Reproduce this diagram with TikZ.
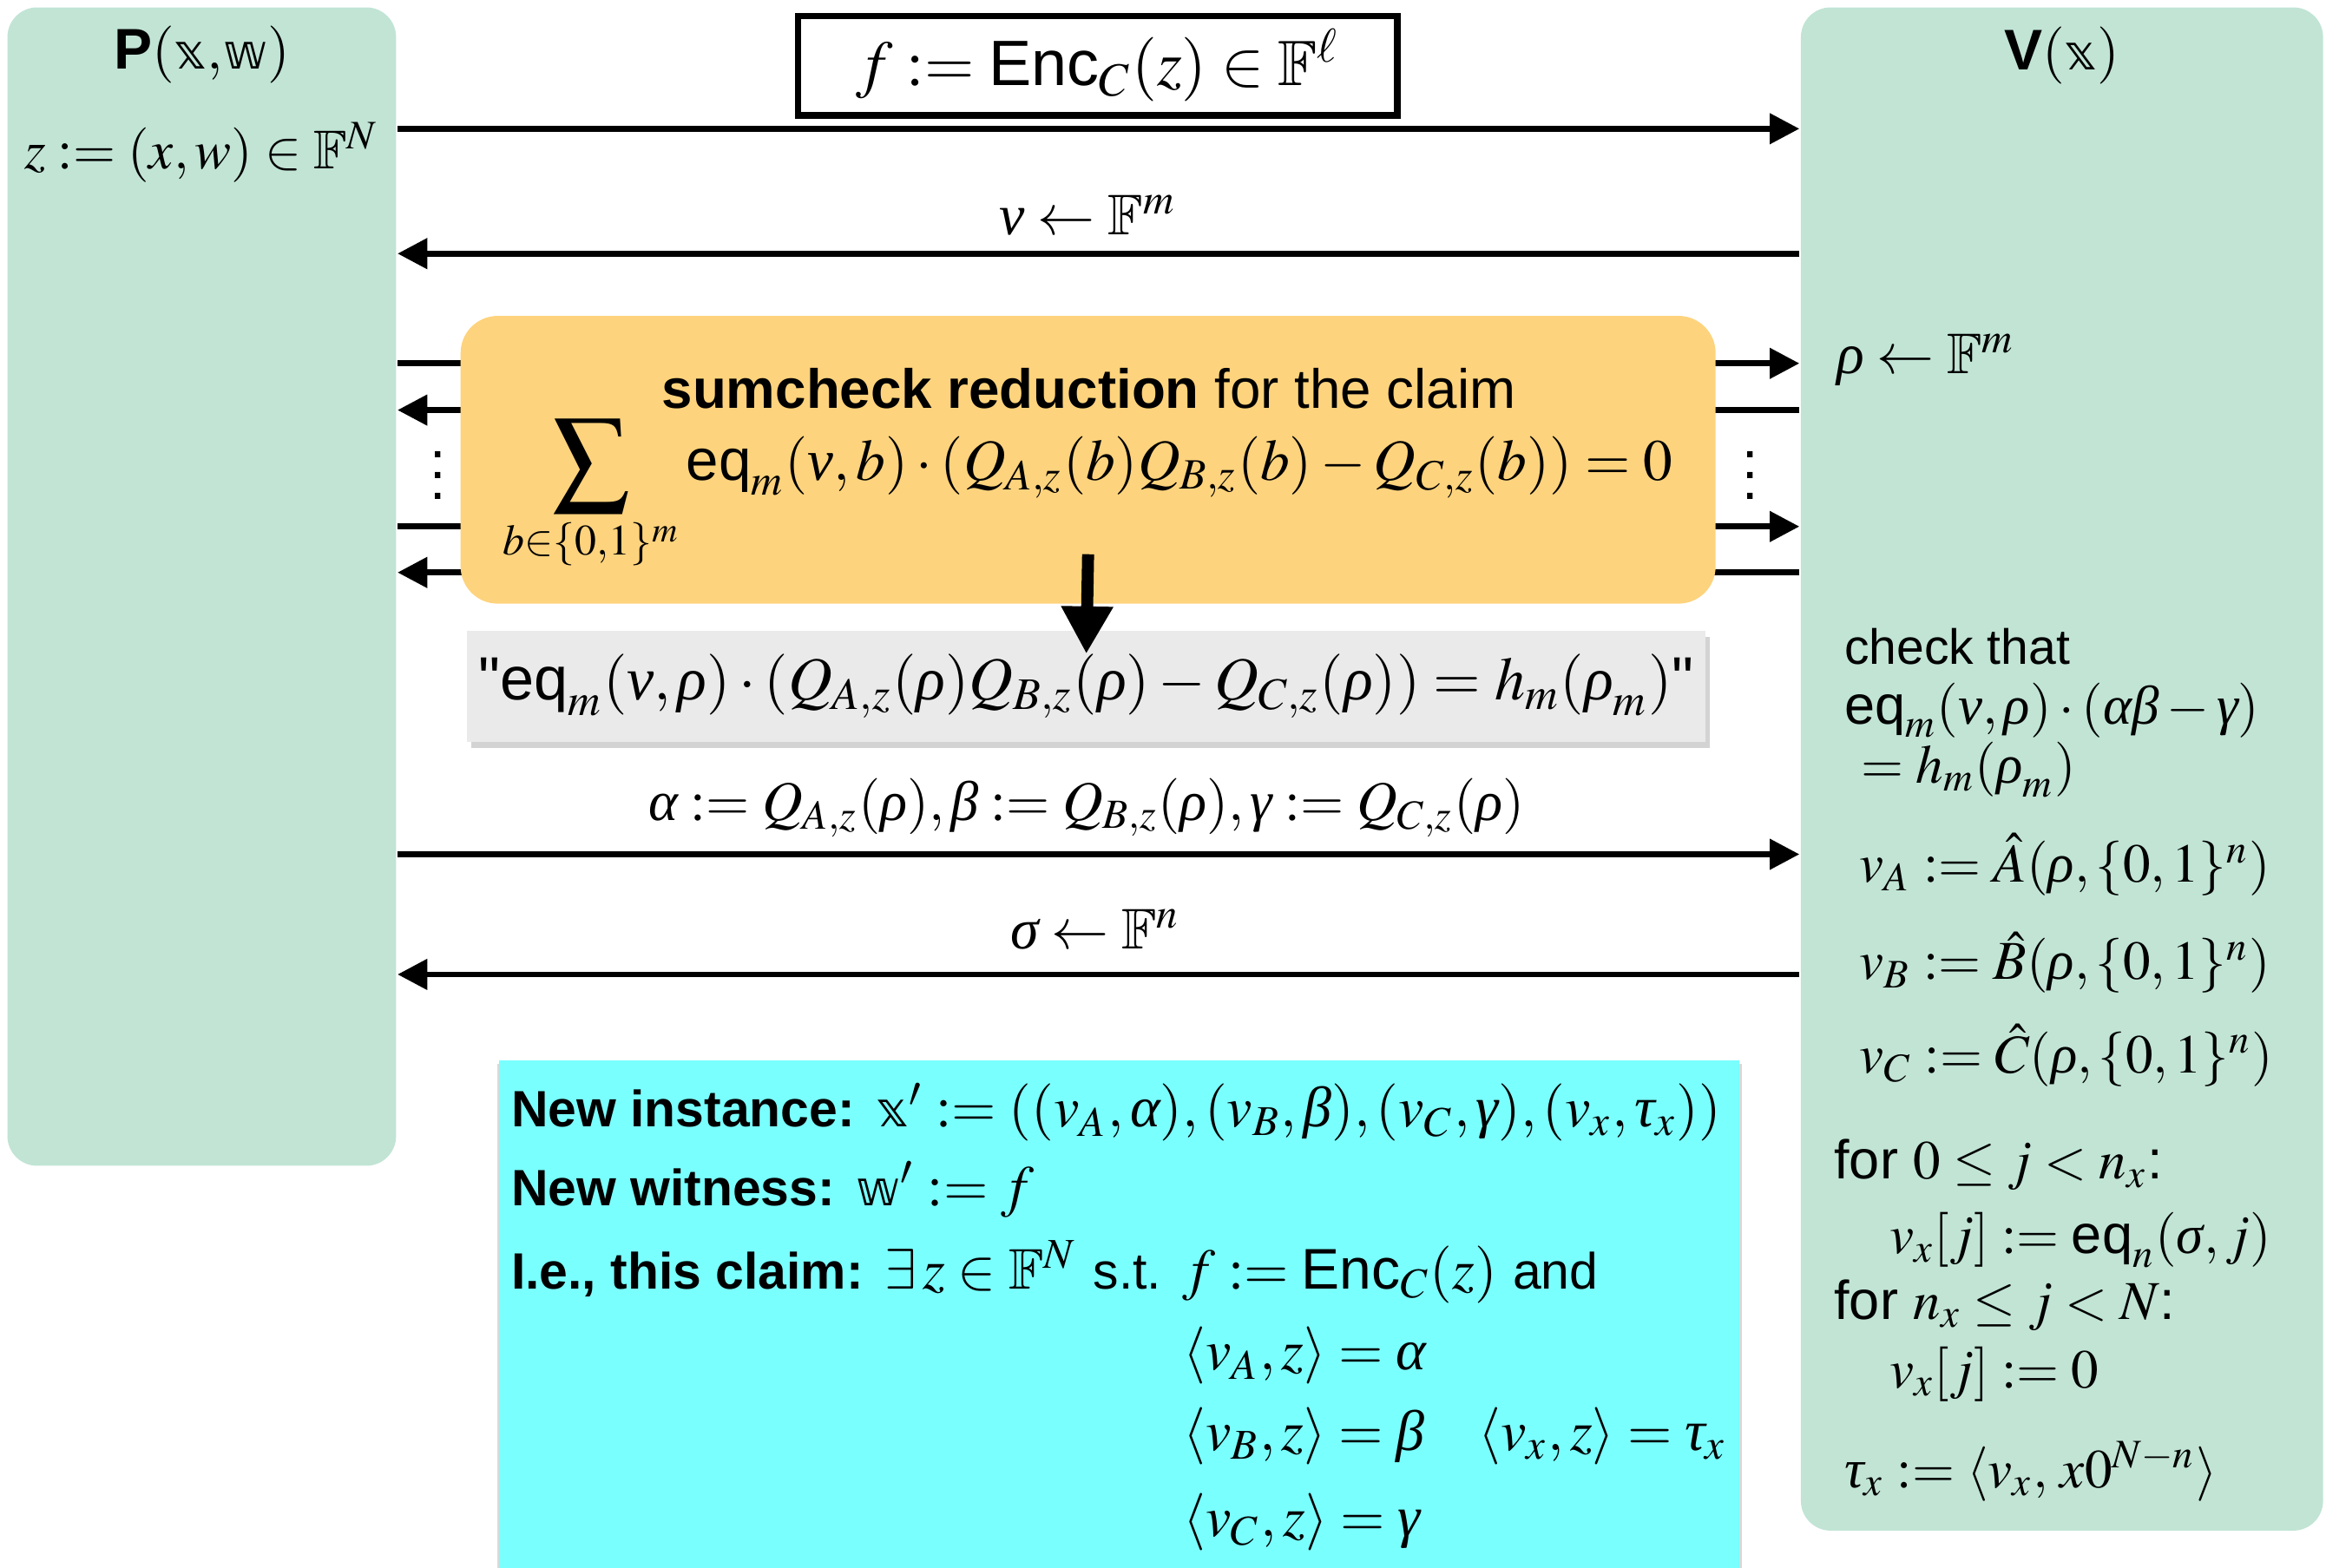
\documentclass[tikz,border=0pt]{standalone}
\usepackage{amsmath, amssymb}
\usepackage{mathptmx}
\usepackage[no-math]{fontspec}
\setmainfont{Liberation Sans}
\newfontfamily\dsfont{DejaVu Sans}[Scale=0.85]
\newfontfamily\rawsans{Liberation Sans}
\newfontfamily\grk{Liberation Serif}
\usepackage{graphicx}
\usepackage{xcolor}
\usepackage{tikz}
\usetikzlibrary{arrows.meta, positioning, shadows}

\definecolor{partyGreen}{RGB}{193,228,213}
\definecolor{sumOrange}{RGB}{254,211,125}
\definecolor{claimGray}{RGB}{234,234,234}
\definecolor{newCyan}{RGB}{122,255,255}

\newcommand{\inst}{\text{\dsfont 𝕩}}
\newcommand{\wit}{\text{\dsfont 𝕨}}
\newcommand{\eqf}{\text{eq}}
\newcommand{\Enc}{\text{Enc}}
\newcommand{\gk}[1]{\text{\grk\itshape #1}}
\renewcommand{\nu}{\gk{ν}}
\renewcommand{\rho}{\gk{ρ}}
\renewcommand{\alpha}{\gk{α}}
\renewcommand{\beta}{\gk{β}}
\renewcommand{\gamma}{\gk{γ}}
\renewcommand{\sigma}{\gk{σ}}
\renewcommand{\tau}{\gk{τ}}
\newcommand{\ctext}[1]{{\fontsize{9.8}{12}\selectfont #1}}
\newcommand{\bigsum}{\mathop{\vcenter{\hbox{\scalebox{1.3}{$\displaystyle\sum$}}}}\limits}

\begin{document}
\begin{tikzpicture}[
					% Picture Styling
					>={Triangle[length=2mm, width=2mm]},
					party/.style={fill=partyGreen, rounded corners=0.2cm, inner sep=0pt},
					sumbox/.style={fill=sumOrange, rounded corners=0.25cm, minimum width=8.46cm, minimum height=1.94cm, inner sep=0pt},
					claimbox/.style={fill=claimGray, minimum width=8.35cm, minimum height=0.745cm, inner sep=0pt, drop shadow={shadow xshift=0.3mm, shadow yshift=-0.4mm, opacity=0.35}},
					newbox/.style={fill=newCyan, minimum width=8.36cm, minimum height=3.43cm, inner sep=0pt, drop shadow={shadow xshift=0mm, shadow yshift=-0.3mm, shadow scale=1.004, opacity=0.3}},
					encbox/.style={draw, line width=1.2pt, minimum width=4.04cm, minimum height=0.67cm, inner sep=0pt, font=\fontsize{12.3}{14}\selectfont},
					title/.style={font=\fontsize{11}{13}\selectfont, inner sep=0pt, anchor=base},
					lbl/.style={font=\fontsize{11}{13}\selectfont, inner sep=0pt, anchor=base},
					vtxt/.style={font=\fontsize{10.5}{12.5}\selectfont, inner sep=0pt, anchor=base west},
					ctxt/.style={font=\fontsize{11}{13}\selectfont, inner sep=0pt, anchor=base west},
					dots/.style={inner sep=0pt, font=\fontsize{11}{13}\selectfont},
					msg/.style={->, line width=1.1pt},
					reduce/.style={-{Triangle[length=3.2mm, width=3.3mm]}, line width=2.3pt}
				]
				\useasboundingbox (0,0) rectangle (15.68,-10.57);
				% Prover and Verifier
				\node[party, minimum width=2.62cm, minimum height=7.81cm] (prover) at (1.36,-3.955) {};
				\node[party, minimum width=3.52cm, minimum height=10.27cm] (verifier) at (13.90,-5.185) {};
				\node[title] (ptitle) at (1.36,-0.465) {\textbf{P}$(\inst{,}\wit)$};
				\node[title] (vtitle) at (13.90,-0.47) {\textbf{V}$(\inst)$};
				\node[lbl, font=\fontsize{10.5}{12.5}\selectfont] (zdef) at (1.36,-1.14) {$z := (x,w) \in \mathbb{F}^N$};
				% Commitment
				\node[encbox] (enc) at (7.40,-0.443) {$f := \Enc_C(z) \in \mathbb{F}^\ell$};
				% Message heights
				\foreach \n/\y in {a/-0.868, b/-1.71, c/-2.45, d/-2.765, e/-3.55, f/-3.86, g/-5.76, h/-6.57} {
					\coordinate (p\n) at (2.68,\y);
					\coordinate (v\n) at (12.13,\y);
				}
				% Messages
				\draw[msg] (pa) -- (va);
				\draw[msg] (vb) -- node[lbl, xshift=-0.7mm, yshift=1.3mm] (nulbl) {$\nu \leftarrow \mathbb{F}^m$} (pb);
				\draw[msg] (pc) -- (vc);
				\draw[msg] (vd) -- (pd);
				\draw[msg] (pe) -- (ve);
				\draw[msg] (vf) -- (pf);
				\draw[msg] (pg) -- node[lbl, font=\fontsize{10.75}{12.5}\selectfont, xshift=-0.8mm, yshift=2.3mm] (openlbl) {$\alpha := Q_{A,z}(\rho), \beta := Q_{B,z}(\rho), \gamma := Q_{C,z}(\rho)$} (vg);
				\draw[msg] (vh) -- node[lbl, xshift=-0.2mm, yshift=1.7mm] (sigmalbl) {$\sigma \leftarrow \mathbb{F}^n$} (ph);
				\node[dots] (ldots) at (2.95,-3.10) {$\vdots$};
				\node[dots] (rdots) at (11.80,-3.10) {$\vdots$};
				% Sumcheck
				\node[sumbox] (sumcheck) at (7.335,-3.10) {};
				\node[font=\fontsize{10.6}{12.6}\selectfont, inner sep=0pt, anchor=base] (sctitle) at (7.34,-2.755) {\textbf{sumcheck reduction} for the claim};
				\node[font=\fontsize{11.2}{13}\selectfont, inner sep=0pt, anchor=base west] (scclaim) at (3.386,-3.24) {$\bigsum_{b\in\{0,1\}^m} \eqf_m(\nu,b)\cdot(Q_{A,z}(b)Q_{B,z}(b) - Q_{C,z}(b)) = 0$};
				\node[claimbox, font=\fontsize{11.7}{13.5}\selectfont] (claim) at (7.323,-4.628) {{\rawsans"}$\eqf_m(\nu,\rho)\cdot(Q_{A,z}(\rho)Q_{B,z}(\rho) - Q_{C,z}(\rho)) = h_m(\rho_m)${\rawsans"}};
				\draw[reduce] ([yshift=0.34cm]sumcheck.south) -- ([yshift=-0.16cm]claim.north);
				% Verifier side
				\node[vtxt, font=\fontsize{11}{13}\selectfont] (rho) at (12.375,-2.52) {$\rho \leftarrow \mathbb{F}^m$};
				\node[vtxt, font=\fontsize{9.5}{11}\selectfont] (chk) at (12.426,-4.48) {check that};
				\node[vtxt] (chk1) at (12.426,-4.88) {$\eqf_m(\nu,\rho)\cdot(\alpha\beta-\gamma)$};
				\node[vtxt] (chk2) at (12.54,-5.28) {$= h_m(\rho_m)$};
				\node[vtxt] (vA) at (12.53,-5.95) {$v_A := \hat{A}(\rho,\{0,1\}^n)$};
				\node[vtxt] (vB) at (12.53,-6.605) {$v_B := \hat{B}(\rho,\{0,1\}^n)$};
				\node[vtxt] (vC) at (12.53,-7.236) {$v_C := \hat{C}(\rho,\{0,1\}^n)$};
				\node[vtxt] (for1) at (12.358,-7.95) {for $0 \le j < n_x$:};
				\node[vtxt] (vx1) at (12.73,-8.454) {$v_x[j] := \eqf_n(\sigma,j)$};
				\node[vtxt] (for2) at (12.358,-8.895) {for $n_x \le j < N$:};
				\node[vtxt] (vx2) at (12.73,-9.358) {$v_x[j] := 0$};
				\node[vtxt] (taux) at (12.426,-10.03) {$\tau_x := \langle v_x,\, x0^{N-n}\rangle$};
				% New claim
				\node[newbox, anchor=north west] (newclaim) at (3.36,-7.14) {};
				\node[ctxt] (newinst) at (3.44,-7.60) {\ctext{\textbf{New instance:}} $\inst' := ((v_A,\alpha),(v_B,\beta),(v_C,\gamma),(v_x,\tau_x))$};
				\node[ctxt] (newwit) at (3.44,-8.128) {\ctext{\textbf{New witness:}} $\wit' := f$};
				\node[ctxt] (thisclaim) at (3.44,-8.69) {\ctext{\textbf{I.e., this claim:}} $\exists\, z \in \mathbb{F}^N$ \ctext{s.t.} $f := \Enc_C(z)$ \ctext{and}};
				\node[ctxt] (ipA) at (7.97,-9.238) {$\langle v_A,z\rangle = \alpha$};
				\node[ctxt] (ipB) at (7.97,-9.78) {$\langle v_B,z\rangle = \beta$};
				\node[ctxt] (ipx) at (9.96,-9.78) {$\langle v_x,z\rangle = \tau_x$};
				\node[ctxt] (ipC) at (7.97,-10.357) {$\langle v_C,z\rangle = \gamma$};
			\end{tikzpicture}
\end{document}
